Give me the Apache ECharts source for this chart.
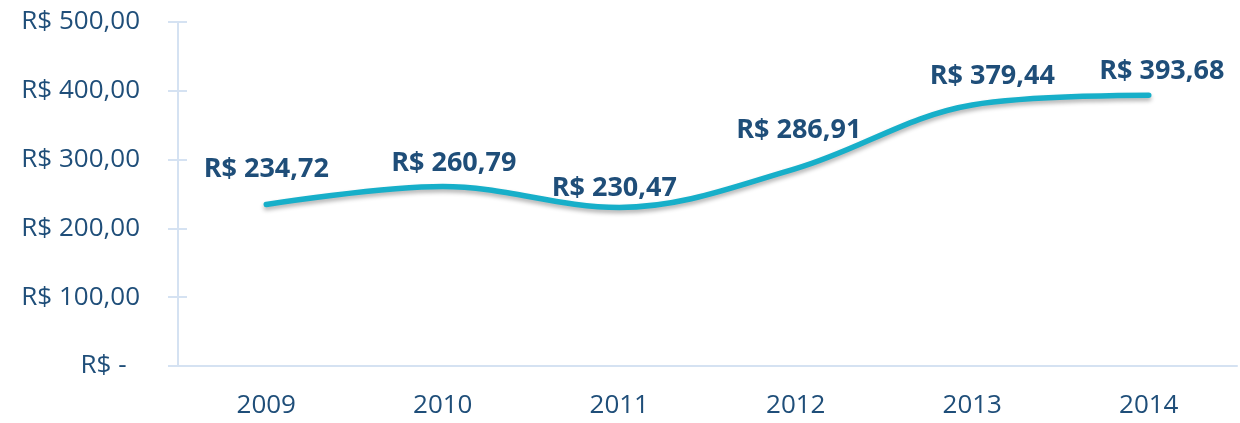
<!DOCTYPE html>
<html>
<head>
<meta charset="utf-8">
<script src="https://cdn.jsdelivr.net/npm/echarts@6/dist/echarts.min.js"></script>
<style>
  html, body { margin: 0; padding: 0; background: #fff; }
  #chart { width: 1240px; height: 423px; }
</style>
</head>
<body>
<div id="chart"></div>
<script>
// dados
const anos = ['2009', '2010', '2011', '2012', '2013', '2014']
const valores = [234.72, 260.79, 230.47, 286.91, 379.44, 393.68]
const yTicks = [0, 100, 200, 300, 400, 500]
// deslocamento dos rótulos (ajuste manual, como no original)
const rotuloOffset = [[0, -16], [11, -4], [-5, 0], [3, -19], [20, -9], [13, -4]]

const corTexto = '#1F4E79'
const corEixo = '#D5E2F2'
const fonte = '"Open Sans", "Liberation Sans", sans-serif'

// formato R$ 000,00
const fmt = (v) => v === 0 ? 'R$ -  ' : 'R$ ' + v.toFixed(2).replace('.', ',')

const chart = echarts.init(document.getElementById('chart'))

const option = {
  animation: false,
  grid: { left: 178, right: 3, top: 22, bottom: 57 },
  xAxis: {
    type: 'category',
    data: anos,
    boundaryGap: true,
    axisLine: { lineStyle: { color: corEixo, width: 2 } },
    axisTick: { show: false },
    axisLabel: { color: corTexto, fontSize: 26, fontFamily: fonte, margin: 27 }
  },
  yAxis: [{
    type: 'value',
    min: yTicks[0],
    max: yTicks[yTicks.length - 1],
    interval: 100,
    axisLine: { show: true, lineStyle: { color: corEixo, width: 2 } },
    axisTick: { show: true, length: 10, lineStyle: { color: corEixo, width: 2 } },
    splitLine: { show: false },
    axisLabel: { color: corTexto, fontSize: 26, fontFamily: fonte, margin: 38, formatter: fmt }
  }, {
    // marcas internas (o tick cruza o eixo)
    type: 'value',
    position: 'left',
    min: yTicks[0],
    max: yTicks[yTicks.length - 1],
    interval: 100,
    axisLine: { show: false },
    axisTick: { show: true, inside: true, length: 9, lineStyle: { color: corEixo, width: 2 } },
    splitLine: { show: false },
    axisLabel: { show: false }
  }],
  series: [{
    type: 'line',
    data: valores.map((v, i) => ({
      value: v,
      label: { offset: rotuloOffset[i] }
    })),
    smooth: 0.35,
    showSymbol: true,
    symbol: 'circle',
    symbolSize: 2,
    itemStyle: { color: 'rgba(0,0,0,0)', borderWidth: 0 },
    lineStyle: {
      color: '#17AFC9',
      width: 5.5,
      cap: 'round',
      shadowColor: 'rgba(0,0,0,0.3)',
      shadowBlur: 4,
      shadowOffsetY: 3
    },
    label: {
      show: true,
      position: 'top',
      distance: 5,
      color: corTexto,
      fontSize: 27,
      fontWeight: 'bold',
      fontFamily: fonte,
      formatter: (p) => fmt(p.value)
    }
  }]
}

chart.setOption(option)
window.addEventListener('resize', () => chart.resize())
</script>
</body>
</html>
